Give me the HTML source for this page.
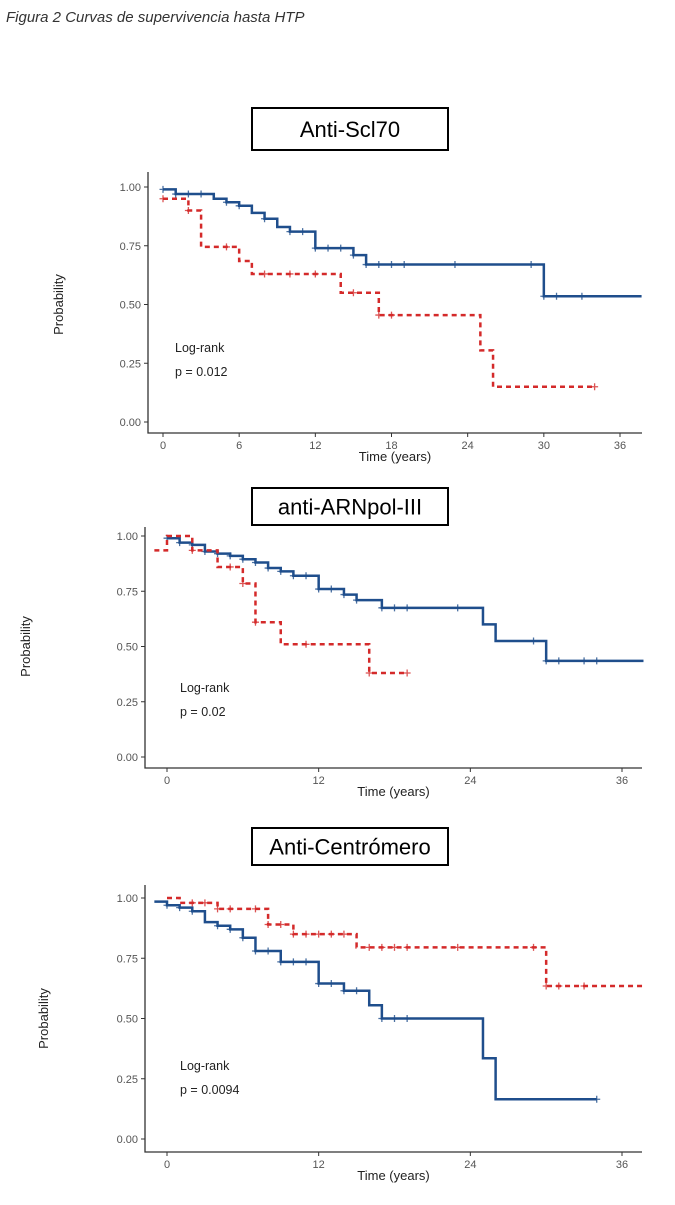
<!DOCTYPE html>
<html><head><meta charset="utf-8"><style>
body{margin:0;background:#fff;width:675px;height:1200px;overflow:hidden;font-family:"Liberation Sans",sans-serif}
</style></head><body>
<svg id="s" width="675" height="1200">
<text x="6" y="22" font-size="15" font-style="italic" fill="#333">Figura 2 Curvas de supervivencia hasta HTP</text>
</svg>
<script>
const tA=[0,1,4,5,6,7,8,9,10,12,15,16,30];
const sA_blue=[0.99,0.97,0.95,0.935,0.92,0.89,0.865,0.83,0.81,0.74,0.71,0.67,0.535];
const cA_blue=[0,1,2,3,5,6,8,10,11,12,13,14,15,16,17,18,19,23,29,30,31,33];
const tA_red=[0,2,3,6,7,14,17,25,26];
const sA_red=[0.95,0.90,0.745,0.685,0.63,0.55,0.455,0.305,0.15];
const cA_red=[0,2,5,8,10,12,15,17,18,34];
const tB=[0,1,2,3,4,5,6,7,8,9,10,12,14,15,17,25,26,30];
const sB_blue=[0.99,0.97,0.96,0.93,0.92,0.91,0.895,0.88,0.855,0.84,0.82,0.76,0.735,0.71,0.675,0.60,0.525,0.435];
const cB_blue=[0,1,2,3,4,5,6,7,8,9,10,11,12,13,14,15,17,18,19,23,29,30,31,33,34];
const tB_red=[-1,0,2,4,6,7,9,16];
const sB_red=[0.935,1.0,0.935,0.86,0.785,0.61,0.51,0.38];
const cB_red=[2,5,6,7,11,16,19];
const tC=[-1,0,1,2,3,4,5,6,7,9,12,14,16,17,25,26];
const sC_blue=[0.985,0.97,0.96,0.945,0.90,0.885,0.87,0.835,0.78,0.735,0.645,0.615,0.555,0.50,0.335,0.165];
const cC_blue=[0,1,2,4,5,6,7,8,9,10,11,12,13,14,15,17,18,19,34];
const tC_red=[0,1,4,8,10,15,30];
const sC_red=[1.0,0.98,0.955,0.89,0.85,0.795,0.635];
const cC_red=[2,3,4,5,7,8,9,10,11,12,13,14,16,17,18,19,23,29,30,31,33];
const xTicksA=[0,6,12,18,24,30,36];
const xTicksBC=[0,12,24,36];
const yTicks=[0,0.25,0.5,0.75,1];
const yTickLabels=["0.00","0.25","0.50","0.75","1.00"];

const NS="http://www.w3.org/2000/svg",svg=document.getElementById('s');
function el(t,a,p){const e=document.createElementNS(NS,t);for(const k in a)e.setAttribute(k,a[k]);(p||svg).appendChild(e);return e;}
const panels=[
 {title:"Anti-Scl70",box:[252,108,196,42],x0:163,x36:620,y1:187,y0:422,axL:148,axB:433,axR:642,axT:172,ylab:63,xt:xTicksA,
  blue:[tA,sA_blue,cA_blue,37.7],red:[tA_red,sA_red,cA_red,34],lr:[175,352],p:"p = 0.012"},
 {title:"anti-ARNpol-III",box:[252,488,196,37],x0:167,x36:622,y1:536,y0:757,axL:145,axB:768,axR:642,axT:527,ylab:30,xt:xTicksBC,
  blue:[tB,sB_blue,cB_blue,37.7],red:[tB_red,sB_red,cB_red,19],lr:[180,692],p:"p = 0.02"},
 {title:"Anti-Centrómero",box:[252,828,196,37],x0:167,x36:622,y1:898,y0:1139,axL:145,axB:1152,axR:642,axT:885,ylab:48,xt:xTicksBC,
  blue:[tC,sC_blue,cC_blue,34],red:[tC_red,sC_red,cC_red,37.7],lr:[180,1070],p:"p = 0.0094"}
];
panels.forEach((P,i)=>{
 const g=el('g',{});
 
 
 const X=t=>P.x0+(P.x36-P.x0)*t/36, Y=s=>P.y0+(P.y1-P.y0)*s;
 const b=el('rect',{x:P.box[0],y:P.box[1],width:P.box[2],height:P.box[3],fill:'#fff',stroke:'#000','stroke-width':2},g);
 
 
 const tt=el('text',{x:P.box[0]+P.box[2]/2,y:P.box[1]+P.box[3]/2+8,'text-anchor':'middle','font-size':22,fill:'#000'},g);
 tt.textContent=P.title;
 
 
 const ax=el('path',{d:`M${P.axL} ${P.axT}V${P.axB}H${P.axR}`,fill:'none',stroke:'#333','stroke-width':1.3},g);
 
 
 yTicks.forEach((v,j)=>{
  el('line',{x1:P.axL-4,x2:P.axL,y1:Y(v),y2:Y(v),stroke:'#333'},g);
  const t=el('text',{x:P.axL-7,y:Y(v)+4,'text-anchor':'end','font-size':11,fill:'#555'},g);
  t.textContent=yTickLabels[j];
  
  
 });
 P.xt.forEach(v=>{
  el('line',{x1:X(v),x2:X(v),y1:P.axB,y2:P.axB+4,stroke:'#333'},g);
  const t=el('text',{x:X(v),y:P.axB+16,'text-anchor':'middle','font-size':11,fill:'#555'},g);
  t.textContent=v;
  
  
 });
 const xl=el('text',{x:(P.axL+P.axR)/2,y:P.axB+28,'text-anchor':'middle','font-size':13,fill:'#222'},g);
 xl.textContent='Time (years)';
 
 
 const yl=el('text',{x:P.ylab,y:(P.y0+P.y1)/2,'text-anchor':'middle','font-size':13,fill:'#222',transform:`rotate(-90 ${P.ylab} ${(P.y0+P.y1)/2})`},g);
 yl.textContent='Probability';
 
 
 [['blue','#1f4e8c',null],['red','#d42a2a','5 4']].forEach(([k,c,dash])=>{
  const [ts,ss,cs,end]=P[k];
  let d=`M${X(ts[0])} ${Y(ss[0])}`;
  for(let j=1;j<ts.length;j++){d+=`H${X(ts[j])}V${Y(ss[j])}`;}
  d+=`H${X(end)}`;
  const a={d:d,fill:'none',stroke:c,'stroke-width':2.5};
  if(dash)a['stroke-dasharray']=dash;
  const ln=el('path',a,g);
  
  
  const sAt=t=>{let s=ss[0];for(let j=0;j<ts.length;j++)if(ts[j]<=t)s=ss[j];return s;};
  cs.forEach(t=>{
   const x=X(t),y=Y(sAt(t));
   const m=el('path',{d:`M${x-3.5} ${y}H${x+3.5}M${x} ${y-3.5}V${y+3.5}`,stroke:c,'stroke-width':1.3,opacity:0.8},g);
   
   
  });
 });
 const l1=el('text',{x:P.lr[0],y:P.lr[1],'font-size':12.5,fill:'#222'},g);
 l1.textContent='Log-rank';
 
 
 const l2=el('text',{x:P.lr[0],y:P.lr[1]+24,'font-size':12.5,fill:'#222'},g);
 l2.textContent=P.p;
 
 
});
</script>
</body></html>
